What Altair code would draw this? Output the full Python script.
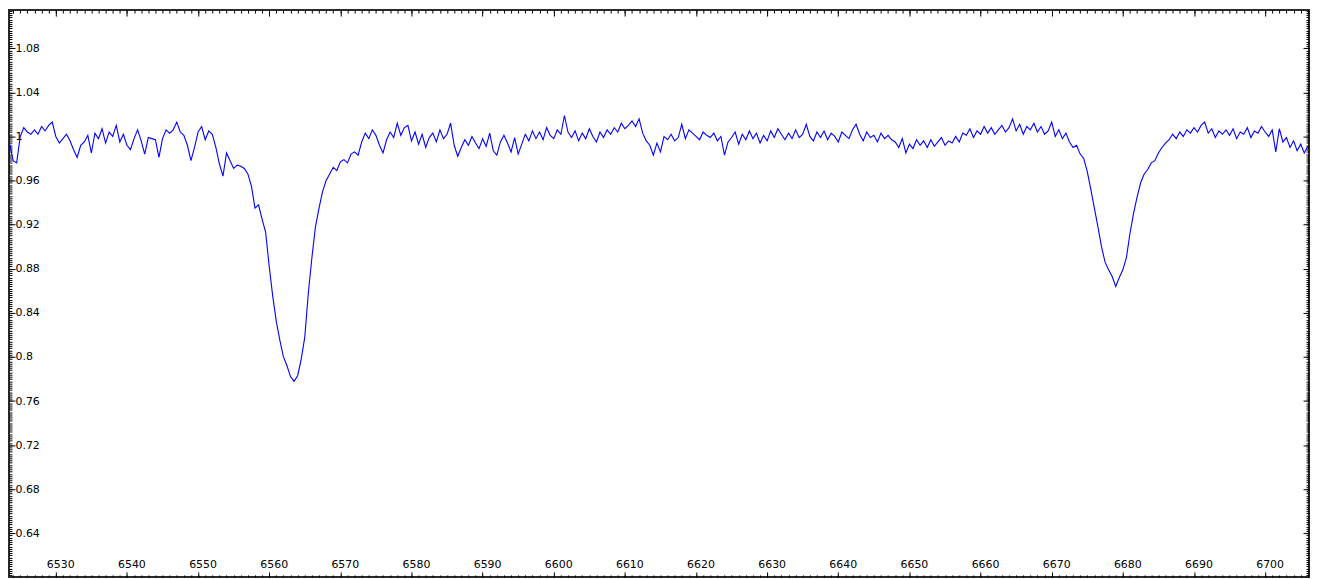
import altair as alt
import pandas as pd

# ---- spectrum flux (0.5 A sampling) ----
WAVE_START = 6522.5
WAVE_STEP = 0.5

# 6522.5 - 6572.5 (incl. H-alpha)
flux_blue = [
    1.000, 1.006, 0.994, 0.978, 0.976, 1.000, 1.008, 1.004, 1.002, 1.006,
    1.002, 1.009, 1.005, 1.010, 1.013, 1.000, 0.994, 0.998, 1.002, 0.996,
    0.988, 0.981, 0.992, 0.995, 1.001, 0.985, 1.003, 0.998, 1.007, 0.994,
    1.004, 1.000, 1.010, 0.995, 1.002, 0.992, 0.988, 0.998, 1.006, 0.996,
    0.984, 0.999, 0.998, 0.997, 0.981, 0.998, 1.006, 1.003, 1.006, 1.013,
    1.004, 1.001, 0.992, 0.978, 0.990, 1.004, 1.009, 0.997, 1.005, 1.002,
    0.990, 0.975, 0.964, 0.985, 0.978, 0.971, 0.974, 0.973, 0.971, 0.966,
    0.955, 0.935, 0.938, 0.925, 0.913, 0.882, 0.855, 0.832, 0.815, 0.800,
    0.792, 0.782, 0.778, 0.783, 0.798, 0.818, 0.858, 0.890, 0.918, 0.935,
    0.950, 0.960, 0.966, 0.972, 0.969, 0.977, 0.979, 0.976, 0.984, 0.986,
    0.983,
]

# 6573.0 - 6671.5 (continuum)
flux_mid = [
    0.995, 1.003, 0.998, 1.006, 1.001, 0.992, 0.985, 0.997, 1.004, 0.999,
    1.012, 1.001, 1.008, 1.010, 0.996, 1.004, 0.993, 1.002, 0.990, 0.999,
    1.003, 0.995, 1.006, 0.998, 1.002, 1.012, 0.992, 0.982, 0.990, 0.997,
    0.992, 1.000, 0.994, 0.989, 0.998, 0.991, 1.003, 0.987, 0.983, 0.995,
    1.001, 0.994, 0.986, 0.999, 0.984, 0.993, 1.002, 0.996, 1.005, 0.998,
    1.004, 0.997, 1.008, 1.001, 0.998, 1.006, 1.002, 1.019, 1.004, 0.999,
    1.005, 0.996, 1.003, 0.998, 1.007, 1.000, 0.995, 1.004, 0.999, 1.006,
    1.002, 1.008, 1.004, 1.012, 1.007, 1.010, 1.014, 1.009, 1.016, 1.003,
    0.996, 0.992, 0.983, 0.994, 0.986, 1.000, 0.997, 1.002, 0.996, 0.999,
    1.011, 0.998, 1.006, 1.003, 1.000, 0.997, 1.004, 1.001, 0.999, 1.003,
    0.996, 1.000, 0.983, 0.995, 0.999, 1.004, 0.993, 1.002, 0.997, 1.005,
    0.998, 1.003, 0.994, 1.001, 0.996, 1.005, 0.999, 1.007, 1.002, 0.997,
    1.003, 0.998, 1.006, 0.999, 1.002, 1.011, 1.000, 0.996, 1.004, 0.999,
    1.005, 0.997, 1.003, 1.000, 0.995, 1.004, 1.001, 0.998, 1.006, 1.011,
    1.002, 0.996, 1.004, 0.999, 1.001, 0.995, 1.003, 0.998, 1.001, 0.997,
    0.995, 0.990, 0.998, 0.985, 0.993, 0.989, 0.997, 0.992, 0.996, 0.990,
    0.997, 0.991, 0.995, 0.999, 0.992, 0.996, 0.994, 1.000, 0.995, 1.003,
    1.001, 1.007, 0.999, 1.005, 1.002, 1.009, 1.003, 1.008, 1.002, 1.006,
    1.010, 1.004, 1.008, 1.016, 1.005, 1.011, 1.002, 1.009, 1.006, 1.012,
    1.004, 1.009, 1.002, 1.005, 1.013, 1.000, 1.006, 0.998,
]

# 6672.0 - 6686.5 (He I 6678)
flux_he = [
    1.003, 0.995, 0.990, 0.992, 0.984, 0.980, 0.968, 0.952, 0.935, 0.918,
    0.900, 0.886, 0.879, 0.873, 0.864, 0.872, 0.879, 0.890, 0.912, 0.930,
    0.945, 0.958, 0.966, 0.970, 0.976, 0.978, 0.985, 0.990, 0.994, 0.997,
]

# 6687.0 - 6706.0
flux_red = [
    1.002, 0.998, 1.004, 1.000, 1.006, 1.003,
    1.008, 1.004, 1.010, 1.013, 1.003, 1.007, 0.999, 1.005, 1.002, 1.006,
    1.001, 1.007, 0.998, 1.004, 1.002, 1.008, 0.999, 1.005, 1.003, 1.009,
    1.004, 1.000, 1.006, 0.986, 1.007, 0.995, 0.999, 0.990, 0.996, 0.987,
    0.993, 0.985, 0.991,
]

flux = flux_blue + flux_mid + flux_he + flux_red
wavelength = [round(WAVE_START + WAVE_STEP * i, 1) for i in range(len(flux))]

# ---- axis tick positions ----
x_major = [6530, 6540, 6550, 6560, 6570, 6580, 6590, 6600, 6610,
           6620, 6630, 6640, 6650, 6660, 6670, 6680, 6690, 6700]
x_minor = list(range(6524, 6707))
y_major = [0.64, 0.68, 0.72, 0.76, 0.80, 0.84, 0.88, 0.92,
           0.96, 1.00, 1.04, 1.08]
y_minor = [round(0.602 + 0.002 * i, 3) for i in range(257)]

W, H = 1305, 569
X_DOMAIN = [6523.42, 6706.17]
Y_DOMAIN = [0.6005, 1.1146]
FONT = "DejaVu Sans"

df = pd.DataFrame({"wavelength": wavelength, "flux": flux})

xs = alt.Scale(domain=X_DOMAIN, nice=False, zero=False)
ys = alt.Scale(domain=Y_DOMAIN, nice=False, zero=False)


def ax(orient, offset, values, size, **kw):
    return alt.Axis(orient=orient, offset=offset, values=values,
                    tickSize=size, tickColor="black", tickWidth=1,
                    domain=False, grid=False, title=None,
                    labelFont=FONT, labelFontSize=11, labelColor="black",
                    labelOverlap=False, labelFlush=False, **kw)


def layer(x_axis, y_axis, visible):
    mark = alt.Chart(df).mark_line(
        color="#0000FF", strokeWidth=1.1, clip=True,
        opacity=1 if visible else 0)
    return mark.encode(
        x=alt.X("wavelength:Q", scale=xs, axis=x_axis),
        y=alt.Y("flux:Q", scale=ys, axis=y_axis),
    )


main = layer(
    ax("top", -H, x_major, 5, labels=True, format="d", labelPadding=2,
       labelAlign="center", labelBaseline="bottom", labelOffset=4.5),
    ax("right", -W, y_major, 6, labels=True, labelPadding=0,
       labelAlign="left", labelBaseline="middle",
       labelExpr="'' + round(datum.value * 100) / 100"),
    True,
)
minor_bl = layer(
    ax("top", -H, x_minor, 2, labels=False),
    ax("right", -W, y_minor, 3, labels=False),
    False,
)
major_tr = layer(
    ax("bottom", -H, x_major, 6, labels=False),
    ax("left", -W, y_major, 6, labels=False),
    False,
)
minor_tr = layer(
    ax("bottom", -H, x_minor, 3, labels=False),
    ax("left", -W, y_minor, 3, labels=False),
    False,
)

chart = (
    alt.layer(main, minor_bl, major_tr, minor_tr)
    .resolve_axis(x="independent", y="independent")
    .properties(width=W, height=H, padding=0, background="white")
    .configure_view(stroke="#2a2a2a", strokeWidth=2)
)

chart.save("out.html", embed_options={"renderer": "svg", "actions": False})
